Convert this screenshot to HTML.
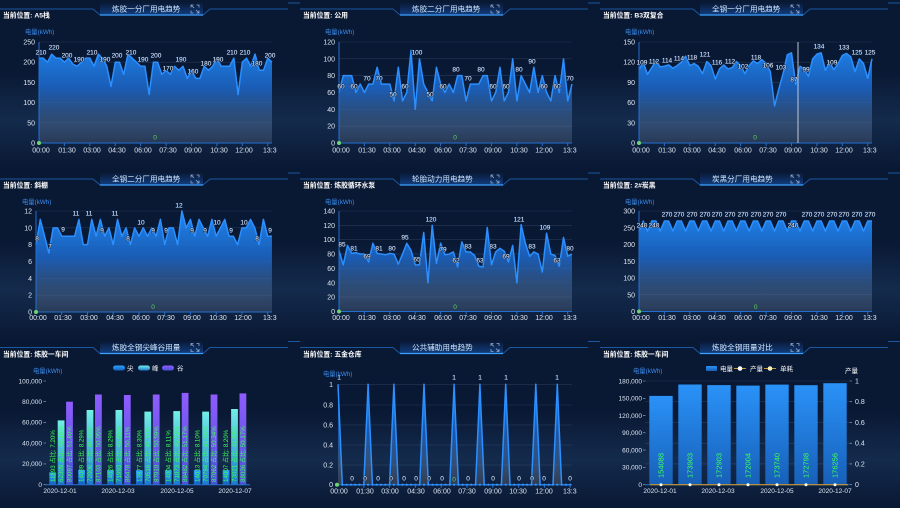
<!DOCTYPE html>
<html><head><meta charset="utf-8"><style>
html,body{margin:0;padding:0;background:#091833;width:900px;height:508px;overflow:hidden}
svg{display:block;font-family:"Liberation Sans","Noto Sans CJK SC",sans-serif}
.ti{font-size:7.6px;fill:#d4e9ff}
.lo{font-size:6.8px;fill:#fff;font-weight:bold}
.yl{font-size:6.3px;fill:#3a8ff0}
.tk{font-size:7px;fill:#dde6f2}
.tr{font-size:7px;fill:#dde6f2;text-anchor:end}
.xc{font-size:7px;fill:#dde6f2;text-anchor:middle}
.dl{font-size:6.5px;fill:#f4f4f4;text-anchor:middle;paint-order:stroke;stroke:#0b2a58;stroke-width:1}
.g0{font-size:6.5px;fill:#5fd35f;text-anchor:middle}
.gr{stroke:rgba(160,190,230,0.2);stroke-width:0.6}
.ln{fill:none;stroke:#2b8fff;stroke-width:1.5;stroke-linejoin:round}
.ax{stroke:#2470d0;stroke-width:1}
.gl{font-size:6.2px;fill:#3dff5a}
.lg{font-size:6.5px;fill:#fff}
.s7{font-size:6.5px;fill:#dde6f2;text-anchor:end}
.x7{font-size:6.5px;fill:#dde6f2;text-anchor:middle}
</style></head><body>
<svg width="900" height="508" viewBox="0 0 900 508" xmlns="http://www.w3.org/2000/svg">
<defs>
<linearGradient id="bg1" x1="0" y1="0" x2="0" y2="1">
<stop offset="0" stop-color="#3a6ea8" stop-opacity="0"/><stop offset="0.5" stop-color="#3a6ea8" stop-opacity="0.22"/><stop offset="1" stop-color="#3a6ea8" stop-opacity="0"/></linearGradient>
<linearGradient id="tg" x1="0" y1="0" x2="0" y2="1"><stop offset="0" stop-color="#1e6ee6" stop-opacity="0"/><stop offset="1" stop-color="#1e78f0" stop-opacity="0.4"/></linearGradient>
<g id="hdr">
<path d="M0,9 H93 L100,15 H203 L210,9 H288" fill="none" stroke="#1b56a0" stroke-width="1"/>
<path d="M288,3 H300" stroke="#1b56a0" stroke-width="1"/>
<rect x="100" y="2" width="103" height="13" fill="url(#tg)"/>
<line x1="100" y1="15" x2="203" y2="15" stroke="#3da0ff" stroke-width="1.3"/>
<path d="M191,7.5 V5 H193.5 M199,7.5 V5 H196.5 M191,10.5 V13 H193.5 M199,10.5 V13 H196.5 M191.5,5.5 L194,8 M198.5,12.5 L196,10" fill="none" stroke="#95aac8" stroke-width="0.8"/>
</g>
<linearGradient id="a1" gradientUnits="userSpaceOnUse" x1="0" y1="250" x2="0" y2="0"><stop offset="0" stop-color="#1f88f2"/><stop offset="0.45" stop-color="#1b64c4" stop-opacity="0.9"/><stop offset="0.75" stop-color="#3a5d8c" stop-opacity="0.65"/><stop offset="1" stop-color="#6b7a95" stop-opacity="0.25"/></linearGradient>
<linearGradient id="a2" gradientUnits="userSpaceOnUse" x1="0" y1="120" x2="0" y2="0"><stop offset="0" stop-color="#1f88f2"/><stop offset="0.45" stop-color="#1b64c4" stop-opacity="0.9"/><stop offset="0.75" stop-color="#3a5d8c" stop-opacity="0.65"/><stop offset="1" stop-color="#6b7a95" stop-opacity="0.25"/></linearGradient>
<linearGradient id="a3" gradientUnits="userSpaceOnUse" x1="0" y1="150" x2="0" y2="0"><stop offset="0" stop-color="#1f88f2"/><stop offset="0.45" stop-color="#1b64c4" stop-opacity="0.9"/><stop offset="0.75" stop-color="#3a5d8c" stop-opacity="0.65"/><stop offset="1" stop-color="#6b7a95" stop-opacity="0.25"/></linearGradient>
<linearGradient id="a4" gradientUnits="userSpaceOnUse" x1="0" y1="12" x2="0" y2="0"><stop offset="0" stop-color="#1f88f2"/><stop offset="0.45" stop-color="#1b64c4" stop-opacity="0.9"/><stop offset="0.75" stop-color="#3a5d8c" stop-opacity="0.65"/><stop offset="1" stop-color="#6b7a95" stop-opacity="0.25"/></linearGradient>
<linearGradient id="a5" gradientUnits="userSpaceOnUse" x1="0" y1="140" x2="0" y2="0"><stop offset="0" stop-color="#1f88f2"/><stop offset="0.45" stop-color="#1b64c4" stop-opacity="0.9"/><stop offset="0.75" stop-color="#3a5d8c" stop-opacity="0.65"/><stop offset="1" stop-color="#6b7a95" stop-opacity="0.25"/></linearGradient>
<linearGradient id="a6" gradientUnits="userSpaceOnUse" x1="0" y1="300" x2="0" y2="0"><stop offset="0" stop-color="#1f88f2"/><stop offset="0.45" stop-color="#1b64c4" stop-opacity="0.9"/><stop offset="0.75" stop-color="#3a5d8c" stop-opacity="0.65"/><stop offset="1" stop-color="#6b7a95" stop-opacity="0.25"/></linearGradient>
<linearGradient id="a8" gradientUnits="userSpaceOnUse" x1="0" y1="1" x2="0" y2="0"><stop offset="0" stop-color="#1f88f2"/><stop offset="0.5" stop-color="#1b64c4" stop-opacity="0.8"/><stop offset="1" stop-color="#7a7a80" stop-opacity="0.3"/></linearGradient>
<linearGradient id="gJ" x1="0" y1="0" x2="0" y2="1"><stop offset="0" stop-color="#2aa6ff"/><stop offset="1" stop-color="#1560c0"/></linearGradient>
<linearGradient id="gF" x1="0" y1="0" x2="0" y2="1"><stop offset="0" stop-color="#72f0e6"/><stop offset="1" stop-color="#1e78d0"/></linearGradient>
<linearGradient id="gG" x1="0" y1="0" x2="0" y2="1"><stop offset="0" stop-color="#8f5cff"/><stop offset="1" stop-color="#4a52d8"/></linearGradient>
<linearGradient id="gB" x1="0" y1="0" x2="0" y2="1"><stop offset="0" stop-color="#2a92f8"/><stop offset="1" stop-color="#1760b8"/></linearGradient>
</defs>

<!-- background -->
<rect width="900" height="508" fill="#091833"/>
<rect x="0" y="70" width="900" height="100" fill="url(#bg1)"/>
<rect x="0" y="240" width="900" height="100" fill="url(#bg1)"/>
<rect x="0" y="410" width="900" height="98" fill="url(#bg1)"/>

<!-- headers -->
<use href="#hdr" x="0" y="0"/><use href="#hdr" x="300" y="0"/><use href="#hdr" x="600" y="0"/>
<use href="#hdr" x="0" y="170"/><use href="#hdr" x="300" y="170"/><use href="#hdr" x="600" y="170"/>
<use href="#hdr" x="0" y="338.5"/><use href="#hdr" x="300" y="338.5"/><use href="#hdr" x="600" y="338.5"/>

<text class="ti" x="112" y="11.5">炼胶一分厂用电趋势</text>
<text class="ti" x="412" y="11.5">炼胶二分厂用电趋势</text>
<text class="ti" x="712" y="11.5">全钢一分厂用电趋势</text>
<text class="ti" x="112" y="181.5">全钢二分厂用电趋势</text>
<text class="ti" x="412" y="181.5">轮胎动力用电趋势</text>
<text class="ti" x="712" y="181.5">炭黑分厂用电趋势</text>
<text class="ti" x="112" y="350">炼胶全钢尖峰谷用量</text>
<text class="ti" x="412" y="350">公共辅助用电趋势</text>
<text class="ti" x="712" y="350">炼胶全钢用量对比</text>

<text class="lo" x="3" y="17.5">当前位置: A5栈</text>
<text class="lo" x="303" y="17.5">当前位置: 公用</text>
<text class="lo" x="603" y="17.5">当前位置: B3双复合</text>
<text class="lo" x="3" y="187.5">当前位置: 斜棚</text>
<text class="lo" x="303" y="187.5">当前位置: 炼胶循环水泵</text>
<text class="lo" x="603" y="187.5">当前位置: 2#炭黑</text>
<text class="lo" x="3" y="356.5">当前位置: 炼胶一车间</text>
<text class="lo" x="303" y="356.5">当前位置: 五金仓库</text>
<text class="lo" x="603" y="356.5">当前位置: 炼胶一车间</text>

<!-- ============ PANEL 1 ============ -->
<text class="yl" x="25" y="34">电量(kWh)</text>
<g class="gr"><line x1="39" y1="42" x2="272" y2="42"/><line x1="39" y1="62.2" x2="272" y2="62.2"/><line x1="39" y1="82.4" x2="272" y2="82.4"/><line x1="39" y1="102.6" x2="272" y2="102.6"/><line x1="39" y1="122.8" x2="272" y2="122.8"/></g>
<g transform="translate(39,143) scale(4.236,-0.404)">
<polygon fill="url(#a1)" points="0,0 0,210 1,210 2,200 3,220 4,210 5,210 6,200 7,210 8,195 9,190 10,200 11,210 12,210 13,190 14,220 15,210 16,190 17,140 18,200 19,200 20,170 21,220 22,210 23,200 24,190 25,190 26,120 27,200 28,200 29,170 30,180 31,170 32,190 33,180 34,190 35,160 36,180 37,160 38,160 39,190 40,180 41,190 42,210 43,190 44,190 45,190 46,210 47,120 48,200 49,210 50,190 51,220 52,180 53,180 54,210 55,200 55,0"/>
<polyline class="ln" vector-effect="non-scaling-stroke" points="0,210 1,210 2,200 3,220 4,210 5,210 6,200 7,210 8,195 9,190 10,200 11,210 12,210 13,190 14,220 15,210 16,190 17,140 18,200 19,200 20,170 21,220 22,210 23,200 24,190 25,190 26,120 27,200 28,200 29,170 30,180 31,170 32,190 33,180 34,190 35,160 36,180 37,160 38,160 39,190 40,180 41,190 42,210 43,190 44,190 45,190 46,210 47,120 48,200 49,210 50,190 51,220 52,180 53,180 54,210 55,200"/>
</g>
<line class="ax" x1="39" y1="42" x2="39" y2="143"/>
<line class="ax" x1="39" y1="143" x2="272" y2="143"/>
<path class="ax" d="M64.4,143v3M89.8,143v3M115.2,143v3M140.6,143v3M166.1,143v3M191.5,143v3M216.9,143v3M242.3,143v3M267.7,143v3"/>
<text class="tr" x="35" y="44.5">250</text><text class="tr" x="35" y="64.7">200</text><text class="tr" x="35" y="84.9">150</text><text class="tr" x="35" y="105.1">100</text><text class="tr" x="35" y="125.3">50</text><text class="tr" x="35" y="145.5">0</text>
<text class="xc" x="41" y="152.5">00:00</text><text class="xc" x="67" y="152.5">01:30</text><text class="xc" x="92" y="152.5">03:00</text><text class="xc" x="117" y="152.5">04:30</text><text class="xc" x="143" y="152.5">06:00</text><text class="xc" x="168" y="152.5">07:30</text><text class="xc" x="193" y="152.5">09:00</text><text class="xc" x="219" y="152.5">10:30</text><text class="xc" x="244" y="152.5">12:00</text><text class="tk" x="263" y="152.5">13:3</text>
<circle cx="39" cy="143" r="2" fill="#6fd36f"/><text class="g0" x="155" y="139.5">0</text>
<g class="dl"><text x="41" y="54.3">210</text><text x="54" y="49.3">220</text><text x="67" y="57.3">200</text><text x="79" y="61.3">190</text><text x="92" y="54.3">210</text><text x="105" y="61.3">190</text><text x="117" y="57.3">200</text><text x="131" y="54.3">210</text><text x="143" y="61.3">190</text><text x="156" y="57.3">200</text><text x="168" y="70.3">170</text><text x="181" y="61.3">190</text><text x="193" y="73.3">160</text><text x="206" y="65.3">180</text><text x="218" y="61.3">190</text><text x="232" y="54.3">210</text><text x="245" y="54.3">210</text><text x="257" y="65.3">180</text><text x="270" y="57.3">200</text></g>

<!-- ============ PANEL 2 ============ -->
<text class="yl" x="325" y="34">电量(kWh)</text>
<g class="gr"><line x1="339" y1="42" x2="572" y2="42"/><line x1="339" y1="58.8" x2="572" y2="58.8"/><line x1="339" y1="75.7" x2="572" y2="75.7"/><line x1="339" y1="92.5" x2="572" y2="92.5"/><line x1="339" y1="109.3" x2="572" y2="109.3"/><line x1="339" y1="126.2" x2="572" y2="126.2"/></g>
<g transform="translate(339,143) scale(4.236,-0.8417)">
<polygon fill="url(#a2)" points="0,0 0,60 1,80 2,80 3,80 4,60 5,70 6,60 7,70 8,70 9,90 10,70 11,70 12,70 13,50 14,90 15,50 16,60 17,110 18,40 19,100 20,70 21,60 22,50 23,90 24,70 25,60 26,70 27,60 28,80 29,80 30,50 31,70 32,70 33,70 34,80 35,80 36,50 37,60 38,90 39,50 40,60 41,100 42,50 43,80 44,70 45,60 46,90 47,60 48,80 49,60 50,50 51,80 52,60 53,100 54,50 55,70 55,0"/>
<polyline class="ln" vector-effect="non-scaling-stroke" points="0,60 1,80 2,80 3,80 4,60 5,70 6,60 7,70 8,70 9,90 10,70 11,70 12,70 13,50 14,90 15,50 16,60 17,110 18,40 19,100 20,70 21,60 22,50 23,90 24,70 25,60 26,70 27,60 28,80 29,80 30,50 31,70 32,70 33,70 34,80 35,80 36,50 37,60 38,90 39,50 40,60 41,100 42,50 43,80 44,70 45,60 46,90 47,60 48,80 49,60 50,50 51,80 52,60 53,100 54,50 55,70"/>
</g>
<line class="ax" x1="339" y1="42" x2="339" y2="143"/>
<line class="ax" x1="339" y1="143" x2="572" y2="143"/>
<path class="ax" d="M364.4,143v3M389.8,143v3M415.2,143v3M440.6,143v3M466.1,143v3M491.5,143v3M516.9,143v3M542.3,143v3M567.7,143v3"/>
<text class="tr" x="335" y="44.5">120</text><text class="tr" x="335" y="61.3">100</text><text class="tr" x="335" y="78.2">80</text><text class="tr" x="335" y="95">60</text><text class="tr" x="335" y="111.8">40</text><text class="tr" x="335" y="128.7">20</text><text class="tr" x="335" y="145.5">0</text>
<text class="xc" x="341" y="152.5">00:00</text><text class="xc" x="367" y="152.5">01:30</text><text class="xc" x="392" y="152.5">03:00</text><text class="xc" x="417" y="152.5">04:30</text><text class="xc" x="443" y="152.5">06:00</text><text class="xc" x="468" y="152.5">07:30</text><text class="xc" x="493" y="152.5">09:00</text><text class="xc" x="519" y="152.5">10:30</text><text class="xc" x="544" y="152.5">12:00</text><text class="tk" x="563" y="152.5">13:3</text>
<circle cx="339" cy="143" r="2" fill="#6fd36f"/><text class="g0" x="455" y="139.5">0</text>
<g class="dl"><text x="341" y="88.3">60</text><text x="354" y="88.3">60</text><text x="367" y="80.3">70</text><text x="379" y="80.3">70</text><text x="393" y="96.3">50</text><text x="405" y="88.3">60</text><text x="417" y="54.3">100</text><text x="430" y="96.3">50</text><text x="443" y="88.3">60</text><text x="456" y="71.3">80</text><text x="468" y="80.3">70</text><text x="481" y="71.3">80</text><text x="493" y="88.3">60</text><text x="506" y="88.3">60</text><text x="519" y="71.3">80</text><text x="532" y="63.3">90</text><text x="544" y="88.3">60</text><text x="557" y="88.3">60</text><text x="570" y="80.3">70</text></g>

<!-- ============ PANEL 3 ============ -->
<text class="yl" x="625" y="34">电量(kWh)</text>
<g class="gr"><line x1="639" y1="42" x2="872" y2="42"/><line x1="639" y1="62.2" x2="872" y2="62.2"/><line x1="639" y1="82.4" x2="872" y2="82.4"/><line x1="639" y1="102.6" x2="872" y2="102.6"/><line x1="639" y1="122.8" x2="872" y2="122.8"/></g>
<g transform="translate(639,143) scale(4.236,-0.6733)">
<polygon fill="url(#a3)" points="0,0 0,109 1,120 2,102 3,112 4,122 5,113 6,114 7,116 8,111 9,115 10,120 11,129 12,115 13,118 14,114 15,103 16,121 17,115 18,95 19,110 20,116 21,110 22,112 23,121 24,115 25,103 26,115 27,122 28,118 29,124 30,118 31,106 32,55 33,80 34,103 35,131 36,134 37,87 38,114 39,110 40,99 41,125 42,132 43,134 44,108 45,120 46,109 47,118 48,130 49,133 50,128 51,106 52,125 53,118 54,96 55,125 55,0"/>
<polyline class="ln" vector-effect="non-scaling-stroke" points="0,109 1,120 2,102 3,112 4,122 5,113 6,114 7,116 8,111 9,115 10,120 11,129 12,115 13,118 14,114 15,103 16,121 17,115 18,95 19,110 20,116 21,110 22,112 23,121 24,115 25,103 26,115 27,122 28,118 29,124 30,118 31,106 32,55 33,80 34,103 35,131 36,134 37,87 38,114 39,110 40,99 41,125 42,132 43,134 44,108 45,120 46,109 47,118 48,130 49,133 50,128 51,106 52,125 53,118 54,96 55,125"/>
</g>
<line class="ax" x1="639" y1="42" x2="639" y2="143"/>
<line class="ax" x1="639" y1="143" x2="872" y2="143"/>
<line x1="798" y1="42" x2="798" y2="143" stroke="#cfd8e4" stroke-width="0.9"/>
<path class="ax" d="M664.4,143v3M689.8,143v3M715.2,143v3M740.6,143v3M766.1,143v3M791.5,143v3M816.9,143v3M842.3,143v3M867.7,143v3"/>
<text class="tr" x="635" y="44.5">150</text><text class="tr" x="635" y="64.7">120</text><text class="tr" x="635" y="84.9">90</text><text class="tr" x="635" y="105.1">60</text><text class="tr" x="635" y="125.3">30</text><text class="tr" x="635" y="145.5">0</text>
<text class="xc" x="641" y="152.5">00:00</text><text class="xc" x="667" y="152.5">01:30</text><text class="xc" x="692" y="152.5">03:00</text><text class="xc" x="717" y="152.5">04:30</text><text class="xc" x="743" y="152.5">06:00</text><text class="xc" x="768" y="152.5">07:30</text><text class="xc" x="793" y="152.5">09:00</text><text class="xc" x="819" y="152.5">10:30</text><text class="xc" x="844" y="152.5">12:00</text><text class="tk" x="863" y="152.5">13:3</text>
<circle cx="639" cy="143" r="2" fill="#6fd36f"/><text class="g0" x="755" y="139.5">0</text>
<g class="dl"><text x="642" y="64.3">109</text><text x="654" y="63.3">112</text><text x="667" y="62.3">114</text><text x="679" y="60.3">114</text><text x="692" y="59.3">118</text><text x="705" y="56.3">121</text><text x="717" y="64.3">116</text><text x="730" y="63.3">112</text><text x="743" y="68.3">102</text><text x="756" y="59.3">118</text><text x="768" y="67.3">106</text><text x="781" y="69.3">103</text><text x="794" y="81.3">87</text><text x="806" y="71.3">99</text><text x="819" y="48.3">134</text><text x="832" y="64.3">109</text><text x="844" y="49.3">133</text><text x="857" y="54.3">125</text><text x="870" y="54.3">125</text></g>

<!-- ============ PANEL 4 ============ -->
<text class="yl" x="22" y="204">电量(kWh)</text>
<g class="gr"><line x1="36" y1="211" x2="272" y2="211"/><line x1="36" y1="227.8" x2="272" y2="227.8"/><line x1="36" y1="244.7" x2="272" y2="244.7"/><line x1="36" y1="261.5" x2="272" y2="261.5"/><line x1="36" y1="278.3" x2="272" y2="278.3"/><line x1="36" y1="295.2" x2="272" y2="295.2"/></g>
<g transform="translate(36,312) scale(4.29,-8.417)">
<polygon fill="url(#a4)" points="0,0 0,8 1,11 2,9 3,7 4,10 5,10 6,9 7,9 8,9 9,9 10,11 11,8 12,8 13,11 14,9 15,11 16,9 17,10 18,8 19,11 20,9 21,10 22,8 23,10 24,9 25,10 26,9 27,10 28,9 29,11 30,8 31,10 32,10 33,8 34,12 35,10 36,11 37,9 38,11 39,10 40,9 41,11 42,9 43,10 44,11 45,9 46,9 47,8 48,10 49,10 50,11 51,10 52,8 53,11 54,9 55,9 55,0"/>
<polyline class="ln" vector-effect="non-scaling-stroke" points="0,8 1,11 2,9 3,7 4,10 5,10 6,9 7,9 8,9 9,9 10,11 11,8 12,8 13,11 14,9 15,11 16,9 17,10 18,8 19,11 20,9 21,10 22,8 23,10 24,9 25,10 26,9 27,10 28,9 29,11 30,8 31,10 32,10 33,8 34,12 35,10 36,11 37,9 38,11 39,10 40,9 41,11 42,9 43,10 44,11 45,9 46,9 47,8 48,10 49,10 50,11 51,10 52,8 53,11 54,9 55,9"/>
</g>
<line class="ax" x1="36" y1="211" x2="36" y2="312"/>
<line class="ax" x1="36" y1="312" x2="272" y2="312"/>
<path class="ax" d="M61.7,312v3M87.5,312v3M113.2,312v3M139,312v3M164.7,312v3M190.4,312v3M216.2,312v3M241.9,312v3M267.7,312v3"/>
<text class="tr" x="32" y="213.5">12</text><text class="tr" x="32" y="230.3">10</text><text class="tr" x="32" y="247.2">8</text><text class="tr" x="32" y="264">6</text><text class="tr" x="32" y="280.8">4</text><text class="tr" x="32" y="297.7">2</text><text class="tr" x="32" y="314.5">0</text>
<text class="xc" x="38" y="320">00:00</text><text class="xc" x="63" y="320">01:30</text><text class="xc" x="89" y="320">03:00</text><text class="xc" x="115" y="320">04:30</text><text class="xc" x="141" y="320">06:00</text><text class="xc" x="166" y="320">07:30</text><text class="xc" x="192" y="320">09:00</text><text class="xc" x="218" y="320">10:30</text><text class="xc" x="243" y="320">12:00</text><text class="tk" x="263" y="320">13:3</text>
<circle cx="36" cy="312" r="2" fill="#6fd36f"/><text class="g0" x="153" y="309">0</text>
<g class="dl"><text x="37" y="240.3">8</text><text x="50" y="248.3">7</text><text x="63" y="231.3">9</text><text x="76" y="215.3">11</text><text x="89" y="215.3">11</text><text x="102" y="232.3">9</text><text x="115" y="215.3">11</text><text x="128" y="240.3">8</text><text x="141" y="224.3">10</text><text x="153" y="232.3">9</text><text x="166" y="232.3">9</text><text x="179" y="207.3">12</text><text x="192" y="232.3">9</text><text x="205" y="232.3">9</text><text x="217" y="224.3">10</text><text x="231" y="232.3">9</text><text x="244" y="224.3">10</text><text x="257" y="240.3">8</text><text x="270" y="232.3">9</text></g>

<!-- ============ PANEL 5 ============ -->
<text class="yl" x="325" y="204">电量(kWh)</text>
<g class="gr"><line x1="339" y1="211" x2="572" y2="211"/><line x1="339" y1="225.4" x2="572" y2="225.4"/><line x1="339" y1="239.7" x2="572" y2="239.7"/><line x1="339" y1="254.1" x2="572" y2="254.1"/><line x1="339" y1="268.4" x2="572" y2="268.4"/><line x1="339" y1="282.8" x2="572" y2="282.8"/><line x1="339" y1="297.1" x2="572" y2="297.1"/></g>
<g transform="translate(339,311.5) scale(4.236,-0.718)">
<polygon fill="url(#a5)" points="0,0 0,85 1,65 2,92 3,81 4,82 5,80 6,80 7,69 8,95 9,81 10,80 11,79 12,81 13,80 14,66 15,80 16,95 17,85 18,65 19,65 20,110 21,40 22,120 23,67 24,95 25,79 26,80 27,83 28,62 29,97 30,83 31,83 32,78 33,63 34,62 35,117 36,65 37,83 38,88 39,84 40,69 41,92 42,40 43,121 44,95 45,77 46,83 47,80 48,55 49,109 50,80 51,78 52,63 53,103 54,77 55,80 55,0"/>
<polyline class="ln" vector-effect="non-scaling-stroke" points="0,85 1,65 2,92 3,81 4,82 5,80 6,80 7,69 8,95 9,81 10,80 11,79 12,81 13,80 14,66 15,80 16,95 17,85 18,65 19,65 20,110 21,40 22,120 23,67 24,95 25,79 26,80 27,83 28,62 29,97 30,83 31,83 32,78 33,63 34,62 35,117 36,65 37,83 38,88 39,84 40,69 41,92 42,40 43,121 44,95 45,77 46,83 47,80 48,55 49,109 50,80 51,78 52,63 53,103 54,77 55,80"/>
</g>
<line class="ax" x1="339" y1="211" x2="339" y2="311.5"/>
<line class="ax" x1="339" y1="311.5" x2="572" y2="311.5"/>
<path class="ax" d="M364.4,311.5v3M389.8,311.5v3M415.2,311.5v3M440.6,311.5v3M466.1,311.5v3M491.5,311.5v3M516.9,311.5v3M542.3,311.5v3M567.7,311.5v3"/>
<text class="tr" x="335" y="213.5">140</text><text class="tr" x="335" y="227.9">120</text><text class="tr" x="335" y="242.2">100</text><text class="tr" x="335" y="256.6">80</text><text class="tr" x="335" y="270.9">60</text><text class="tr" x="335" y="285.3">40</text><text class="tr" x="335" y="299.6">20</text><text class="tr" x="335" y="314">0</text>
<text class="xc" x="341" y="320">00:00</text><text class="xc" x="367" y="320">01:30</text><text class="xc" x="392" y="320">03:00</text><text class="xc" x="417" y="320">04:30</text><text class="xc" x="443" y="320">06:00</text><text class="xc" x="468" y="320">07:30</text><text class="xc" x="493" y="320">09:00</text><text class="xc" x="519" y="320">10:30</text><text class="xc" x="544" y="320">12:00</text><text class="tk" x="563" y="320">13:3</text>
<circle cx="339" cy="311.5" r="2" fill="#6fd36f"/><text class="g0" x="455" y="309">0</text>
<g class="dl"><text x="342" y="246.3">85</text><text x="354" y="250.3">81</text><text x="367" y="258.3">69</text><text x="379" y="250.3">81</text><text x="392" y="250.3">80</text><text x="405" y="239.3">95</text><text x="417" y="261.3">65</text><text x="431" y="221.3">120</text><text x="443" y="251.3">79</text><text x="456" y="262.3">62</text><text x="468" y="248.3">83</text><text x="480" y="262.3">63</text><text x="493" y="248.3">83</text><text x="506" y="258.3">69</text><text x="519" y="221.3">121</text><text x="532" y="248.3">83</text><text x="545" y="229.3">109</text><text x="557" y="262.3">63</text><text x="570" y="250.3">80</text></g>

<!-- ============ PANEL 6 ============ -->
<text class="yl" x="625" y="204">电量(kWh)</text>
<g class="gr"><line x1="639" y1="211" x2="872" y2="211"/><line x1="639" y1="227.75" x2="872" y2="227.75"/><line x1="639" y1="244.5" x2="872" y2="244.5"/><line x1="639" y1="261.25" x2="872" y2="261.25"/><line x1="639" y1="278" x2="872" y2="278"/><line x1="639" y1="294.75" x2="872" y2="294.75"/></g>
<g transform="translate(639,311.5) scale(4.236,-0.335)">
<polygon fill="url(#a6)" points="0,0 0,240 1,270 2,240 3,270 4,270 5,240 6,270 7,270 8,240 9,270 10,270 11,240 12,270 13,270 14,240 15,270 16,270 17,240 18,270 19,270 20,240 21,270 22,270 23,240 24,270 25,270 26,240 27,270 28,270 29,240 30,270 31,270 32,240 33,270 34,270 35,240 36,270 37,270 38,240 39,270 40,270 41,240 42,270 43,270 44,240 45,270 46,270 47,240 48,270 49,270 50,240 51,270 52,270 53,240 54,270 55,270 55,0"/>
<polyline class="ln" vector-effect="non-scaling-stroke" points="0,240 1,270 2,240 3,270 4,270 5,240 6,270 7,270 8,240 9,270 10,270 11,240 12,270 13,270 14,240 15,270 16,270 17,240 18,270 19,270 20,240 21,270 22,270 23,240 24,270 25,270 26,240 27,270 28,270 29,240 30,270 31,270 32,240 33,270 34,270 35,240 36,270 37,270 38,240 39,270 40,270 41,240 42,270 43,270 44,240 45,270 46,270 47,240 48,270 49,270 50,240 51,270 52,270 53,240 54,270 55,270"/>
</g>
<line class="ax" x1="639" y1="211" x2="639" y2="311.5"/>
<line class="ax" x1="639" y1="311.5" x2="872" y2="311.5"/>
<path class="ax" d="M664.4,311.5v3M689.8,311.5v3M715.2,311.5v3M740.6,311.5v3M766.1,311.5v3M791.5,311.5v3M816.9,311.5v3M842.3,311.5v3M867.7,311.5v3"/>
<text class="tr" x="635" y="213.5">300</text><text class="tr" x="635" y="230.3">250</text><text class="tr" x="635" y="247">200</text><text class="tr" x="635" y="263.8">150</text><text class="tr" x="635" y="280.5">100</text><text class="tr" x="635" y="297.3">50</text><text class="tr" x="635" y="314">0</text>
<text class="xc" x="641" y="320">00:00</text><text class="xc" x="667" y="320">01:30</text><text class="xc" x="692" y="320">03:00</text><text class="xc" x="717" y="320">04:30</text><text class="xc" x="743" y="320">06:00</text><text class="xc" x="768" y="320">07:30</text><text class="xc" x="793" y="320">09:00</text><text class="xc" x="819" y="320">10:30</text><text class="xc" x="844" y="320">12:00</text><text class="tk" x="863" y="320">13:3</text>
<circle cx="639" cy="311.5" r="2" fill="#6fd36f"/><text class="g0" x="755.7" y="309">0</text>
<g class="dl"><text x="667" y="216.3">270</text><text x="679" y="216.3">270</text><text x="692" y="216.3">270</text><text x="705" y="216.3">270</text><text x="717" y="216.3">270</text><text x="730" y="216.3">270</text><text x="743" y="216.3">270</text><text x="756" y="216.3">270</text><text x="768" y="216.3">270</text><text x="781" y="216.3">270</text><text x="807" y="216.3">270</text><text x="819" y="216.3">270</text><text x="832" y="216.3">270</text><text x="844" y="216.3">270</text><text x="857" y="216.3">270</text><text x="870" y="216.3">270</text><text x="642" y="227.3">240</text><text x="654" y="227.3">240</text><text x="793" y="227.3">240</text></g>

<!-- ============ PANEL 7 (bars) ============ -->
<text class="yl" x="33" y="373">电量(kWh)</text>
<rect x="113" y="365.5" width="12" height="5" rx="2.5" fill="url(#gJ)"/><text class="lg" x="127" y="370.5">尖</text>
<rect x="138" y="365.5" width="12" height="5" rx="2.5" fill="url(#gF)"/><text class="lg" x="152" y="370.5">峰</text>
<rect x="162" y="365.5" width="12" height="5" rx="2.5" fill="url(#gG)"/><text class="lg" x="177" y="370.5">谷</text>
<text class="s7" x="42" y="383.3">100,000</text><text class="s7" x="42" y="404">80,000</text><text class="s7" x="42" y="424.6">60,000</text><text class="s7" x="42" y="445.3">40,000</text><text class="s7" x="42" y="466.2">20,000</text><text class="s7" x="42" y="487">0</text>
<path d="M43.5,381h2.5M43.5,401.7h2.5M43.5,422.3h2.5M43.5,443h2.5M43.5,463.9h2.5M43.5,484.7h2.5" stroke="#9fb4d0" stroke-width="0.6"/>
<g fill="url(#gJ)">
<rect x="49.3" y="472.4" width="6.8" height="12.3"/><rect x="78.2" y="470.1" width="6.8" height="14.6"/><rect x="107.1" y="470.2" width="6.8" height="14.5"/><rect x="136" y="470.3" width="6.8" height="14.4"/><rect x="164.9" y="470.2" width="6.8" height="14.5"/><rect x="193.8" y="470.2" width="6.8" height="14.5"/><rect x="222.7" y="470.2" width="6.8" height="14.5"/></g>
<g fill="url(#gF)">
<rect x="57.7" y="420.4" width="6.8" height="64.3"/><rect x="86.6" y="410" width="6.8" height="74.7"/><rect x="115.5" y="410" width="6.8" height="74.7"/><rect x="144.4" y="411.6" width="6.8" height="73.1"/><rect x="173.3" y="411.1" width="6.8" height="73.6"/><rect x="202.2" y="411.6" width="6.8" height="73.1"/><rect x="231.1" y="409" width="6.8" height="75.7"/></g>
<g fill="url(#gG)">
<rect x="66.1" y="401.7" width="6.8" height="83"/><rect x="95" y="394.5" width="6.8" height="90.2"/><rect x="123.9" y="395" width="6.8" height="89.7"/><rect x="152.8" y="394.5" width="6.8" height="90.2"/><rect x="181.7" y="392.9" width="6.8" height="91.8"/><rect x="210.6" y="394.5" width="6.8" height="90.2"/><rect x="239.5" y="393.4" width="6.8" height="91.3"/></g>
<g class="gl">
<text transform="translate(54.8,482) rotate(-90)">11893 占比: 7.20%</text>
<text transform="translate(63.2,482) rotate(-90)">62309 占比: 40.19%</text>
<text transform="translate(71.6,482) rotate(-90)">80097 占比: 51.80%</text>
<text transform="translate(83.7,482) rotate(-90)">14089 占比: 8.29%</text>
<text transform="translate(92.1,482) rotate(-90)">72006 占比: 41.66%</text>
<text transform="translate(100.5,482) rotate(-90)">87103 占比: 50.05%</text>
<text transform="translate(112.6,482) rotate(-90)">14026 占比: 8.29%</text>
<text transform="translate(121,482) rotate(-90)">71993 占比: 41.60%</text>
<text transform="translate(129.4,482) rotate(-90)">86478 占比: 50.11%</text>
<text transform="translate(141.5,482) rotate(-90)">13977 占比: 8.30%</text>
<text transform="translate(149.9,482) rotate(-90)">70516 占比: 41.11%</text>
<text transform="translate(158.3,482) rotate(-90)">87010 占比: 50.59%</text>
<text transform="translate(170.4,482) rotate(-90)">14004 占比: 8.11%</text>
<text transform="translate(178.8,482) rotate(-90)">71073 占比: 40.72%</text>
<text transform="translate(187.2,482) rotate(-90)">88482 占比: 51.17%</text>
<text transform="translate(199.3,482) rotate(-90)">14013 占比: 8.10%</text>
<text transform="translate(207.7,482) rotate(-90)">70794 占比: 41.56%</text>
<text transform="translate(216.1,482) rotate(-90)">87062 占比: 50.34%</text>
<text transform="translate(228.2,482) rotate(-90)">14007 占比: 8.20%</text>
<text transform="translate(236.6,482) rotate(-90)">73021 占比: 41.63%</text>
<text transform="translate(245,482) rotate(-90)">88036 占比: 50.17%</text>
</g>
<line class="ax" x1="45" y1="484.7" x2="250" y2="484.7"/>
<text class="x7" x="60" y="493">2020-12-01</text><text class="x7" x="118" y="493">2020-12-03</text><text class="x7" x="177" y="493">2020-12-05</text><text class="x7" x="235" y="493">2020-12-07</text>

<!-- ============ PANEL 8 ============ -->
<text class="yl" x="323" y="376">电量(kWh)</text>
<g class="gr"><line x1="338" y1="384.3" x2="572" y2="384.3"/><line x1="338" y1="405" x2="572" y2="405"/><line x1="338" y1="425" x2="572" y2="425"/><line x1="338" y1="445" x2="572" y2="445"/><line x1="338" y1="465" x2="572" y2="465"/></g>
<g transform="translate(338,484.7) scale(4.3,-100.4)">
<polygon fill="url(#a8)" points="0,0 0,1 1,0 6,0 7,1 8,0 12,0 13,1 14,0 19,0 20,1 21,0 26,0 27,1 28,0 32,0 33,1 34,0 38,0 39,1 40,0 45,0 46,1 47,0 50,0 51,1 52,0 54,0"/>
<polyline class="ln" vector-effect="non-scaling-stroke" points="0,1 1,0 6,0 7,1 8,0 12,0 13,1 14,0 19,0 20,1 21,0 26,0 27,1 28,0 32,0 33,1 34,0 38,0 39,1 40,0 45,0 46,1 47,0 50,0 51,1 52,0 54,0"/>
</g>
<line class="ax" x1="338" y1="484.7" x2="572" y2="484.7"/>
<line x1="338" y1="484.7" x2="570.2" y2="484.7" stroke="#2f96ff" stroke-width="2.2" stroke-linecap="round" stroke-dasharray="0 4.3"/>
<path class="ax" d="M363.8,484.7v3M389.6,484.7v3M415.4,484.7v3M441.2,484.7v3M467,484.7v3M492.8,484.7v3M518.6,484.7v3M544.4,484.7v3M570.2,484.7v3"/>
<text class="tr" x="333" y="386.8">1</text><text class="tr" x="333" y="407.5">0.8</text><text class="tr" x="333" y="427.5">0.6</text><text class="tr" x="333" y="447.5">0.4</text><text class="tr" x="333" y="467.5">0.2</text><text class="tr" x="333" y="487.2">0</text>
<text class="xc" x="339" y="493.5">00:00</text><text class="xc" x="365" y="493.5">01:30</text><text class="xc" x="390" y="493.5">03:00</text><text class="xc" x="416" y="493.5">04:30</text><text class="xc" x="442" y="493.5">06:00</text><text class="xc" x="467" y="493.5">07:30</text><text class="xc" x="493" y="493.5">09:00</text><text class="xc" x="518" y="493.5">10:30</text><text class="xc" x="544" y="493.5">12:00</text><text class="tk" x="563" y="493.5">13:3</text>
<circle cx="337" cy="484.7" r="2" fill="#6fd36f"/><text class="g0" x="454" y="481.5">0</text>
<g class="dl"><text x="339" y="379.3">1</text><text x="454" y="379.3">1</text><text x="480" y="379.3">1</text><text x="506" y="379.3">1</text><text x="557" y="379.3">1</text>
<text x="352" y="480.3">0</text><text x="365" y="480.3">0</text><text x="378" y="480.3">0</text><text x="391" y="480.3">0</text><text x="404" y="480.3">0</text><text x="416" y="480.3">0</text><text x="429" y="480.3">0</text><text x="442" y="480.3">0</text><text x="468" y="480.3">0</text><text x="493" y="480.3">0</text><text x="519" y="480.3">0</text><text x="532" y="480.3">0</text><text x="544" y="480.3">0</text><text x="570" y="480.3">0</text></g>

<!-- ============ PANEL 9 ============ -->
<text class="yl" x="633" y="373">电量(kWh)</text>
<rect x="706" y="366" width="11" height="5" rx="1" fill="url(#gB)"/><text class="lg" x="720" y="371">电量</text>
<line x1="734" y1="368.5" x2="746" y2="368.5" stroke="#c8962e" stroke-width="1"/><circle cx="740" cy="368.5" r="2.3" fill="#fff"/><text class="lg" x="750" y="371">产量</text>
<line x1="764" y1="368.5" x2="776" y2="368.5" stroke="#c8962e" stroke-width="1"/><circle cx="770" cy="368.5" r="2.3" fill="#f6f0c0"/><text class="lg" x="780" y="371">单耗</text>
<text class="lg" x="845" y="373">产量</text>
<g class="gr"><line x1="645" y1="381" x2="849" y2="381"/><line x1="645" y1="401.7" x2="849" y2="401.7"/><line x1="645" y1="422.4" x2="849" y2="422.4"/><line x1="645" y1="443.2" x2="849" y2="443.2"/><line x1="645" y1="463.9" x2="849" y2="463.9"/></g>
<g fill="url(#gB)">
<rect x="649.3" y="395.9" width="23.4" height="88.8"/><rect x="678.3" y="384.5" width="23.4" height="100.2"/><rect x="707.3" y="385.1" width="23.4" height="99.6"/><rect x="736.3" y="385.6" width="23.4" height="99.1"/><rect x="765.3" y="384.6" width="23.4" height="100.1"/><rect x="794.3" y="385.2" width="23.4" height="99.5"/><rect x="823.3" y="383.2" width="23.4" height="101.5"/></g>
<g class="gl" style="font-size:7.5px">
<text transform="translate(663.7,478) rotate(-90)">154088</text>
<text transform="translate(692.7,478) rotate(-90)">173903</text>
<text transform="translate(721.7,478) rotate(-90)">172903</text>
<text transform="translate(750.7,478) rotate(-90)">172004</text>
<text transform="translate(779.7,478) rotate(-90)">173740</text>
<text transform="translate(808.7,478) rotate(-90)">172798</text>
<text transform="translate(837.7,478) rotate(-90)">176256</text>
</g>
<text class="s7" x="642" y="383.3">180,000</text><text class="s7" x="642" y="400.6">150,000</text><text class="s7" x="642" y="417.9">120,000</text><text class="s7" x="642" y="435.1">90,000</text><text class="s7" x="642" y="452.4">60,000</text><text class="s7" x="642" y="469.7">30,000</text><text class="s7" x="642" y="487">0</text>
<path d="M643,381h2.5M643,398.3h2.5M643,415.6h2.5M643,432.8h2.5M643,450.1h2.5M643,467.4h2.5M643,484.7h2.5" stroke="#9fb4d0" stroke-width="0.6"/>
<path d="M849.5,381h2.5M849.5,401.7h2.5M849.5,422.4h2.5M849.5,443.2h2.5M849.5,463.9h2.5M849.5,484.7h2.5" stroke="#9fb4d0" stroke-width="0.6"/>
<text class="tk" x="855" y="383.5">1</text><text class="tk" x="855" y="404.2">0.8</text><text class="tk" x="855" y="424.9">0.6</text><text class="tk" x="855" y="445.7">0.4</text><text class="tk" x="855" y="466.4">0.2</text><text class="tk" x="855" y="487.2">0</text>
<line class="ax" x1="645" y1="484.7" x2="849" y2="484.7"/>
<line x1="650" y1="484.7" x2="848" y2="484.7" stroke="#c8962e" stroke-width="1.2"/>
<g fill="#fff"><circle cx="661" cy="484.7" r="1.5"/><circle cx="690" cy="484.7" r="1.5"/><circle cx="719" cy="484.7" r="1.5"/><circle cx="748" cy="484.7" r="1.5"/><circle cx="777" cy="484.7" r="1.5"/><circle cx="806" cy="484.7" r="1.5"/><circle cx="835" cy="484.7" r="1.5"/></g>
<text class="x7" x="660" y="493">2020-12-01</text><text class="x7" x="718" y="493">2020-12-03</text><text class="x7" x="777" y="493">2020-12-05</text><text class="x7" x="835" y="493">2020-12-07</text>
</svg>
</body></html>
